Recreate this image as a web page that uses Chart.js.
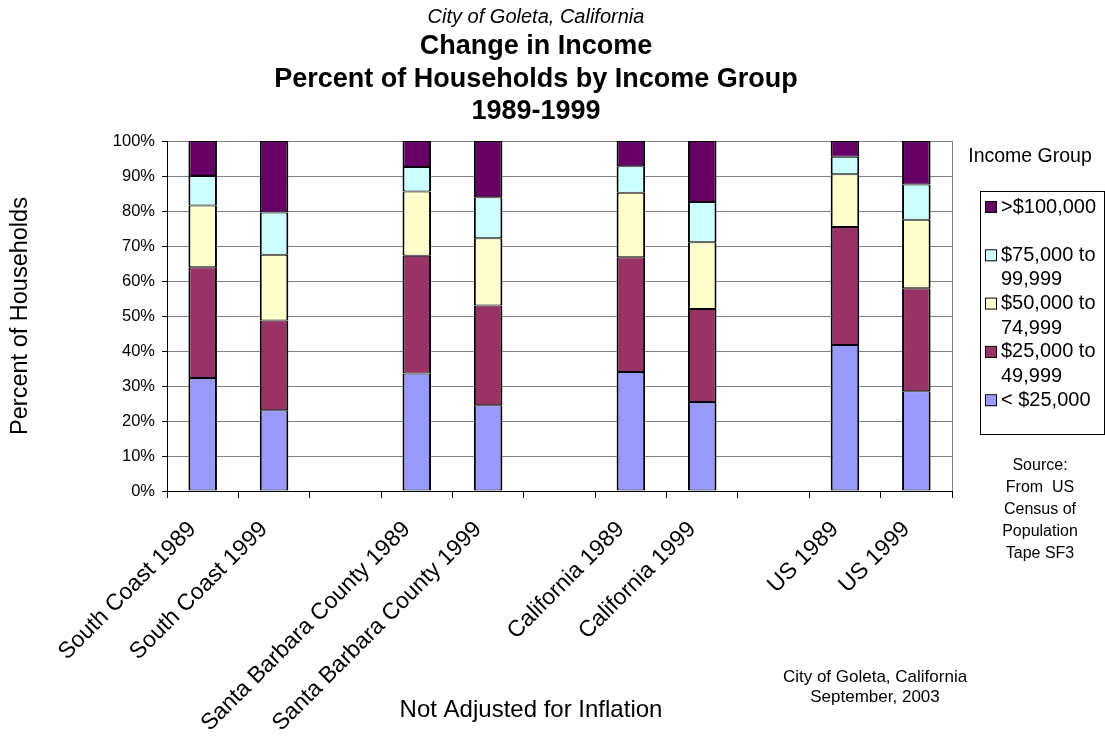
<!DOCTYPE html>
<html>
<head>
<meta charset="utf-8">
<title>Change in Income - City of Goleta</title>
<script src="https://cdn.jsdelivr.net/npm/chart.js@4/dist/chart.umd.min.js"></script>
<style>
    html, body { margin: 0; padding: 0; background: #fff; }
    #incomeChart { display: block; }
</style>
</head>
<body>
<canvas id="incomeChart" width="1105" height="740"></canvas>
<script>
// categorias (las vacias separan los grupos)
const categorias = [
    "South Coast 1989", "South Coast 1999", "",
    "Santa Barbara County 1989", "Santa Barbara County 1999", "",
    "California 1989", "California 1999", "",
    "US 1989", "US 1999"
];

// porcentaje de hogares por grupo de ingreso
const menos25k   = [32.3, 23.1, null, 33.6, 24.5, null, 34.0, 25.4, null, 41.7, 28.5];
const de25a50k   = [31.6, 25.6, null, 33.6, 28.5, null, 32.8, 26.6, null, 33.7, 29.4];
const de50a75k   = [17.7, 18.8, null, 18.4, 19.2, null, 18.4, 19.1, null, 15.1, 19.6];
const de75a100k  = [ 8.4, 12.1, null,  7.0, 11.7, null,  7.6, 11.5, null,  5.0, 10.1];
const mas100k    = [10.0, 20.4, null,  7.4, 16.1, null,  7.2, 17.4, null,  4.5, 12.4];

const gruposIngreso = ["< $25,000", "$25,000 to 49,999", "$50,000 to 74,999", "$75,000 to 99,999", ">$100,000"];
const colores = ["#9999FF", "#993366", "#FFFFCC", "#CCFFFF", "#660066"];
const valoresY = [0, 10, 20, 30, 40, 50, 60, 70, 80, 90, 100];

const FUENTE = "'Liberation Sans', Arial, sans-serif";

// textos fuera del grafico: titulos, leyenda, notas
const textosExtra = {
    id: "textosExtra",
    beforeDatasetsDraw(chart) {
        const { ctx, chartArea } = chart;
        // borde derecho del area de trazado
        ctx.save();
        ctx.strokeStyle = "#808080";
        ctx.lineWidth = 1;
        ctx.beginPath();
        ctx.moveTo(Math.round(chartArea.right) + 0.5, chartArea.top);
        ctx.lineTo(Math.round(chartArea.right) + 0.5, chartArea.bottom);
        ctx.stroke();
        ctx.restore();
    },
    afterDraw(chart) {
        const ctx = chart.ctx;
        ctx.save();
        ctx.fillStyle = "#000";
        ctx.textAlign = "center";
        ctx.textBaseline = "middle";

        ctx.font = "italic 20px " + FUENTE;
        ctx.fillText("City of Goleta, California", 536, 17);
        ctx.font = "bold 27px " + FUENTE;
        ctx.fillText("Change in Income", 536, 47);
        ctx.fillText("Percent of Households by Income Group", 536, 80);
        ctx.fillText("1989-1999", 536, 112);

        ctx.font = "24px " + FUENTE;
        ctx.fillText("Not Adjusted for Inflation", 531, 710);

        ctx.font = "17px " + FUENTE;
        ctx.fillText("City of Goleta, California", 875, 677);
        ctx.fillText("September, 2003", 875, 697);

        ctx.font = "16px " + FUENTE;
        ["Source:", "From  US", "Census of", "Population", "Tape SF3"].forEach((t, i) => {
            ctx.fillText(t, 1040, 466 + i * 22);
        });

        // leyenda (orden invertido, como la pila)
        ctx.font = "19.5px " + FUENTE;
        ctx.fillText("Income Group", 1030, 157);

        ctx.strokeStyle = "#000";
        ctx.lineWidth = 1;
        ctx.strokeRect(980.5, 191.5, 124, 243);

        ctx.textAlign = "left";
        ctx.font = "20px " + FUENTE;
        const ds = chart.data.datasets;
        for (let i = ds.length - 1, k = 0; i >= 0; i--, k++) {
            const y = 207 + k * 48.3;
            ctx.fillStyle = ds[i].backgroundColor;
            ctx.fillRect(985, y - 5, 11, 11);
            ctx.strokeRect(985.5, y - 5.5, 11, 11);
            ctx.fillStyle = "#000";
            const lineas = ds[i].label.includes(" to ")
                ? [ds[i].label.split(" to ")[0] + " to", ds[i].label.split(" to ")[1]]
                : [ds[i].label];
            lineas.forEach((l, j) => ctx.fillText(l, 1001, y + j * 24.5));
        }
        ctx.restore();
    }
};

const ctx = document.getElementById("incomeChart").getContext("2d");
const series = [menos25k, de25a50k, de50a75k, de75a100k, mas100k];

new Chart(ctx, {
    type: "bar",
    data: {
        labels: categorias,
        datasets: series.map((s, i) => ({
            label: gruposIngreso[i],
            data: s,
            backgroundColor: colores[i],
            borderColor: "#000",
            borderWidth: { top: 1, bottom: 1, left: 2, right: 2 },
            borderSkipped: false,
            categoryPercentage: 1,
            barPercentage: 0.4
        }))
    },
    plugins: [textosExtra],
    options: {
        responsive: false,
        animation: false,
        layout: { padding: { left: 0, top: 141, right: 153, bottom: 0 } },
        plugins: {
            legend: { display: false },
            tooltip: { enabled: false }
        },
        scales: {
            x: {
                stacked: true,
                afterFit(scale) { scale.height = 249; },
                grid: {
                    offset: true,
                    drawOnChartArea: false,
                    drawTicks: true,
                    tickLength: 7,
                    tickColor: "#000"
                },
                border: { color: "#000", width: 1 },
                ticks: {
                    autoSkip: false,
                    minRotation: 45,
                    maxRotation: 45,
                    padding: 18,
                    labelOffset: -10,
                    color: "#000",
                    font: { family: FUENTE, size: 23 }
                }
            },
            y: {
                stacked: true,
                min: 0,
                max: 100,
                afterFit(scale) { scale.width = 167; },
                afterBuildTicks(scale) { scale.ticks = valoresY.map(v => ({ value: v })); },
                grid: {
                    color: "#808080",
                    tickLength: 5,
                    tickColor: "#000"
                },
                border: { color: "#000", width: 1 },
                ticks: {
                    padding: 7,
                    color: "#000",
                    font: { family: FUENTE, size: 16.5 },
                    callback: v => v + "%"
                },
                title: {
                    display: true,
                    text: "Percent of Households",
                    color: "#000",
                    font: { family: FUENTE, size: 23.5 },
                    padding: { top: 6, bottom: 0 }
                }
            }
        }
    }
});
</script>
</body>
</html>
